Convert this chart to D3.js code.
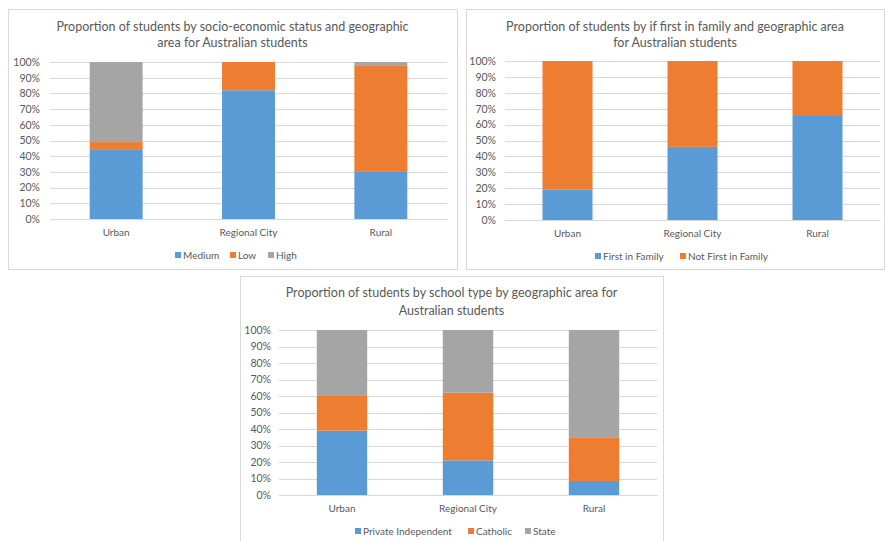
<!DOCTYPE html>
<html>
<head>
<meta charset="utf-8">
<script src="https://cdn.jsdelivr.net/npm/d3@7"></script>
<style>
  html, body { margin: 0; padding: 0; background: #ffffff; }
  svg { display: block; font-family: Lato, "Open Sans", sans-serif; }
</style>
</head>
<body>
<svg id="chart" width="886" height="541"></svg>
<script>
// Geographic areas shared by all three charts
const areas = ["Urban", "Regional City", "Rural"];

// Socio-economic status (percent of students)
const sesKeys = ["Medium", "Low", "High"];
const sesMedium = [44, 82, 30];
const sesLow = [5, 18, 67.5];
const sesHigh = [51, 0, 2.5];

// First in family (percent of students)
const fifKeys = ["First in Family", "Not First in Family"];
const fifFirst = [19, 46, 66];
const fifNot = [81, 54, 34];

// School type (percent of students)
const schoolKeys = ["Private Independent", "Catholic", "State"];
const schoolPrivate = [39, 21, 8.5];
const schoolCatholic = [21.5, 41, 26.5];
const schoolState = [39.5, 38, 65];

// Value axis ticks
const yTicks = [0, 10, 20, 30, 40, 50, 60, 70, 80, 90, 100];
const yTickLabels = ["0%", "10%", "20%", "30%", "40%", "50%", "60%", "70%", "80%", "90%", "100%"];

const palette = ["#5b9bd5", "#ed7d31", "#a5a5a5"];
const textColor = "#595959";

function rows(keys, seriesList) {
  return areas.map((a, i) => {
    const r = { area: a };
    keys.forEach((k, j) => { r[k] = seriesList[j][i]; });
    return r;
  });
}

function drawPanel(svg, cfg) {
  const g = svg.append("g");

  // chart frame
  g.append("rect")
    .attr("x", cfg.box[0] + 0.5).attr("y", cfg.box[1] + 0.5)
    .attr("width", cfg.box[2] - cfg.box[0]).attr("height", cfg.box[3] - cfg.box[1])
    .attr("fill", "#ffffff").attr("stroke", "#d9d9d9").attr("stroke-width", 1);

  // title
  const cx = (cfg.box[0] + cfg.box[2]) / 2;
  cfg.title.forEach((line, i) => {
    g.append("text")
      .attr("x", cx).attr("y", cfg.titleY[i])
      .attr("text-anchor", "middle")
      .attr("font-size", cfg.titleSize)
      .attr("fill", textColor)
      .text(line);
  });

  const x = d3.scaleBand().domain(areas)
    .range([cfg.plot[0], cfg.plot[2]])
    .paddingInner(0.6).paddingOuter(0.3);
  const y = d3.scaleLinear().domain([0, 100]).range([cfg.plot[3], cfg.plot[1]]);

  // gridlines
  g.append("g").selectAll("line").data(yTicks).join("line")
    .attr("x1", cfg.plot[0]).attr("x2", cfg.plot[2])
    .attr("y1", d => Math.round(y(d)) + 0.5).attr("y2", d => Math.round(y(d)) + 0.5)
    .attr("stroke", "#d9d9d9").attr("stroke-width", 1);

  // value axis
  const yAxis = d3.axisLeft(y).tickValues(yTicks)
    .tickFormat((d, i) => yTickLabels[i]).tickSize(0).tickPadding(cfg.tickPad);
  const ya = g.append("g").attr("transform", `translate(${cfg.plot[0]},0)`).call(yAxis);
  ya.select(".domain").remove();
  ya.selectAll("text").attr("font-size", cfg.tickSize).attr("fill", textColor)
    .attr("font-family", "Lato, sans-serif");

  // stacked bars
  const data = rows(cfg.keys, cfg.series);
  const stacked = d3.stack().keys(cfg.keys)(data);
  g.append("g").selectAll("g").data(stacked).join("g")
    .attr("fill", (d, i) => palette[i])
    .selectAll("rect").data(d => d).join("rect")
    .attr("x", d => x(d.data.area))
    .attr("width", x.bandwidth())
    .attr("y", d => y(d[1]))
    .attr("height", d => Math.max(0, y(d[0]) - y(d[1])));

  // category axis
  const xAxis = d3.axisBottom(x).tickSize(0).tickPadding(cfg.catPad);
  const xa = g.append("g").attr("transform", `translate(0,${cfg.plot[3]})`).call(xAxis);
  xa.select(".domain").attr("stroke", "#d9d9d9");
  xa.selectAll("text").attr("font-size", cfg.catSize).attr("fill", textColor)
    .attr("font-family", "Lato, sans-serif");

  // legend
  const lg = g.append("g");
  cfg.keys.forEach((k, i) => {
    const lx = cfg.legendX[i];
    lg.append("rect")
      .attr("x", lx).attr("y", cfg.legendY - 3)
      .attr("width", 6).attr("height", 6)
      .attr("fill", palette[i]);
    lg.append("text")
      .attr("x", lx + 8).attr("y", cfg.legendY)
      .attr("dy", "0.35em")
      .attr("font-size", cfg.legendSize)
      .attr("fill", textColor)
      .text(k);
  });
}

const svg = d3.select("#chart");

drawPanel(svg, {
  box: [8, 9, 457, 269],
  plot: [50, 62, 447, 219],
  title: ["Proportion of students by socio-economic status and geographic", "area for Australian students"],
  titleY: [31, 47], titleSize: 12.5,
  keys: sesKeys, series: [sesMedium, sesLow, sesHigh],
  tickSize: 10.5, tickPad: 10, catSize: 10, catPad: 10,
  legendX: [175, 230, 268], legendY: 255, legendSize: 10
});

drawPanel(svg, {
  box: [466, 9, 884, 269],
  plot: [505, 61, 880, 220],
  title: ["Proportion of students by if first in family and geographic area", "for Australian students"],
  titleY: [31, 47], titleSize: 12.5,
  keys: fifKeys, series: [fifFirst, fifNot],
  tickSize: 10.5, tickPad: 9, catSize: 10, catPad: 10,
  legendX: [595, 680], legendY: 256, legendSize: 10
});

drawPanel(svg, {
  box: [240, 276, 663, 548],
  plot: [279, 330, 657, 495],
  title: ["Proportion of students by school type by geographic area for", "Australian students"],
  titleY: [297, 315], titleSize: 12.5,
  keys: schoolKeys, series: [schoolPrivate, schoolCatholic, schoolState],
  tickSize: 10.5, tickPad: 8, catSize: 10, catPad: 10,
  legendX: [355, 468, 525], legendY: 531, legendSize: 10
});
</script>
</body>
</html>
